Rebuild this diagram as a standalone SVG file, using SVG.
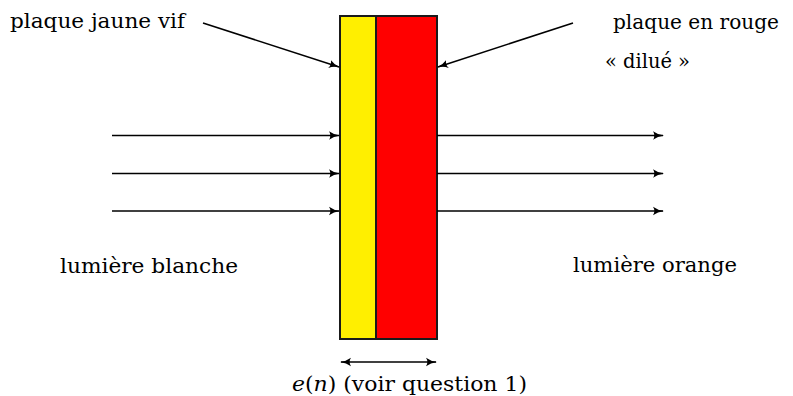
<svg xmlns="http://www.w3.org/2000/svg" width="793" height="396" viewBox="0 0 793 396">
<style>
text{font-family:"DejaVu Serif","Liberation Serif",serif;font-size:20px;fill:#000}
.ln{stroke:#000;stroke-width:1.6;fill:none}
</style>
<defs>
<marker id="ah" viewBox="0 0 11 10" refX="10" refY="5" markerWidth="11" markerHeight="10" markerUnits="userSpaceOnUse" orient="auto-start-reverse">
<path d="M0,0.8 Q4.5,4.2 11,5 Q4.5,5.8 0,9.2 Q2.8,5 0,0.8Z" fill="#000"/>
</marker>
</defs>
<rect width="793" height="396" fill="#fff"/>
<g id="plaques">
<g id="plaque-jaune"><rect x="340" y="16" width="36" height="323" fill="#ffef00" stroke="#1a1a1a" stroke-width="2"/></g>
<g id="plaque-rouge"><rect x="376" y="16" width="61" height="323" fill="#ff0000" stroke="#1a1a1a" stroke-width="2"/></g>
</g>
<g id="connectors">
<line class="ln" x1="203" y1="23" x2="339" y2="67" marker-end="url(#ah)"/>
<line class="ln" x1="573" y1="23" x2="438" y2="67" marker-end="url(#ah)"/>
<line class="ln" x1="112" y1="135.5" x2="339" y2="135.5" marker-end="url(#ah)"/>
<line class="ln" x1="112" y1="173.5" x2="339" y2="173.5" marker-end="url(#ah)"/>
<line class="ln" x1="112" y1="211" x2="339" y2="211" marker-end="url(#ah)"/>
<line class="ln" x1="437" y1="135.5" x2="663" y2="135.5" marker-end="url(#ah)"/>
<line class="ln" x1="437" y1="173.5" x2="663" y2="173.5" marker-end="url(#ah)"/>
<line class="ln" x1="437" y1="211" x2="663" y2="211" marker-end="url(#ah)"/>
<line class="ln" x1="341" y1="362" x2="436" y2="362" marker-start="url(#ah)" marker-end="url(#ah)"/>
</g>
<g id="labels">
<text x="10" y="28" textLength="175" lengthAdjust="spacingAndGlyphs">plaque jaune vif</text>
<text x="613" y="29" textLength="166" lengthAdjust="spacingAndGlyphs">plaque en rouge</text>
<text x="605" y="68" textLength="85" lengthAdjust="spacingAndGlyphs">« dilué »</text>
<text x="60" y="273" textLength="178" lengthAdjust="spacingAndGlyphs">lumière blanche</text>
<text x="573" y="272" textLength="164" lengthAdjust="spacingAndGlyphs">lumière orange</text>
<text x="292" y="391" textLength="235" lengthAdjust="spacingAndGlyphs"><tspan font-style="italic">e</tspan>(<tspan font-style="italic">n</tspan>) (voir question 1)</text>
</g>
</svg>
